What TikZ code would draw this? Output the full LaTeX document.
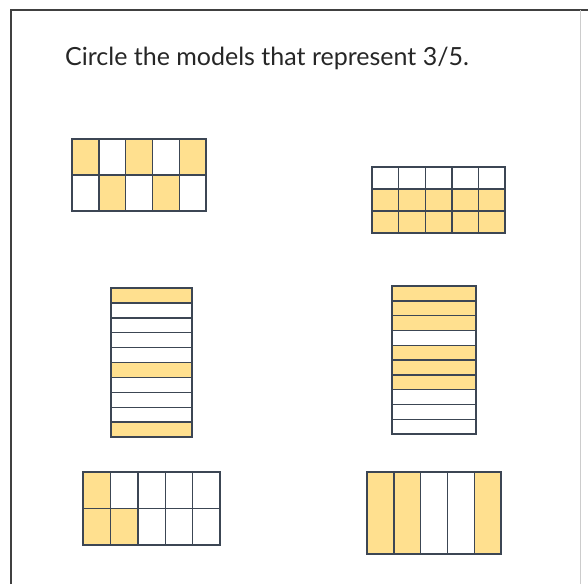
\documentclass[tikz,border=0pt]{standalone}
\usepackage{fontspec}
\setmainfont{Lato}
\usepackage{tikz}

\definecolor{partfill}{HTML}{FFE08F}
\definecolor{gridline}{HTML}{3C4654}

\begin{document}
\begin{tikzpicture}[
  x=1pt, y=-1pt,
  cell/.style={draw=gridline, line width=1.4pt},
  shade/.style={fill=partfill},
  frame/.style={draw=black!75, line width=1.6pt},
]
\useasboundingbox (0,0) rectangle (588,584);

% frame
\draw[frame] (11,584) -- (11,10) -- (588,10);
\draw[draw=black!20, line width=.6pt] (580,10) -- (580,584);

\node[font=\fontsize{25}{28}\selectfont, text=black!85] (title) at (267,58)
  {Circle the models that represent 3/5.};

% model A: 5x2, alternating
\foreach \c/\r in {0/0,2/0,4/0,1/1,3/1}
  \fill[shade] (72+\c*26.8,139+\r*36) rectangle ++(26.8,36);
\draw[cell] (72,139) rectangle (206,211);
\draw[cell] (72,175) -- (206,175);
\foreach \c in {1,...,4}
  \draw[cell] (72+\c*26.8,139) -- (72+\c*26.8,211);

% model B: 5x3, lower two rows shaded
\fill[shade] (372,189) rectangle (505,233);
\draw[cell] (372,167) rectangle (505,233);
\foreach \r in {189,211}
  \draw[cell] (372,\r) -- (505,\r);
\foreach \c in {1,...,4}
  \draw[cell] (372+\c*26.6,167) -- (372+\c*26.6,233);

% model C: 10 strips, rows 1, 6, 10 shaded
\foreach \r in {1,6,10}
  \fill[shade] (111,288+\r*14.9-14.9) rectangle ++(81,14.9);
\draw[cell] (111,288) rectangle (192,437);
\foreach \r in {1,...,9}
  \draw[cell] (111,288+\r*14.9) -- (192,288+\r*14.9);

% model D: 10 strips, rows 1-3 and 5-7 shaded
\foreach \r in {1,2,3,5,6,7}
  \fill[shade] (392,286+\r*14.8-14.8) rectangle ++(84,14.8);
\draw[cell] (392,286) rectangle (476,434);
\foreach \r in {1,...,9}
  \draw[cell] (392,286+\r*14.8) -- (476,286+\r*14.8);

% model E: 5x2, three cells shaded
\foreach \c/\r in {0/0,0/1,1/1}
  \fill[shade] (83+\c*27.4,472+\r*36.5) rectangle ++(27.4,36.5);
\draw[cell] (83,472) rectangle (220,545);
\draw[cell] (83,508.5) -- (220,508.5);
\foreach \c in {1,...,4}
  \draw[cell] (83+\c*27.4,472) -- (83+\c*27.4,545);

% model F: 5 columns, 1, 2 and 5 shaded
\foreach \c in {0,1,4}
  \fill[shade] (367+\c*26.8,472) rectangle ++(26.8,82);
\draw[cell] (367,472) rectangle (501,554);
\foreach \c in {1,...,4}
  \draw[cell] (367+\c*26.8,472) -- (367+\c*26.8,554);
\end{tikzpicture}
\end{document}
